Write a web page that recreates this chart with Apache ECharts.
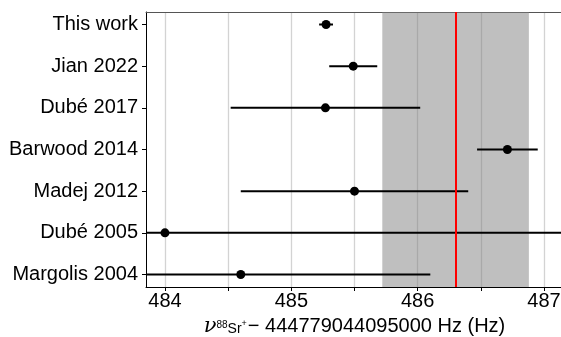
<!DOCTYPE html>
<html>
<head>
<meta charset="utf-8">
<script src="https://cdn.jsdelivr.net/npm/echarts@6/dist/echarts.min.js"></script>
<style>html,body{margin:0;padding:0;background:#fff}#c{width:561px;height:337px}</style>
</head>
<body>
<div id="c"></div>
<script>
const categories = ["This work", "Jian 2022", "Dubé 2017", "Barwood 2014", "Madej 2012", "Dubé 2005", "Margolis 2004"];
const centers = [485.275, 485.49, 485.27, 486.71, 485.50, 484.00, 484.60];
const errors = [0.055, 0.19, 0.75, 0.24, 0.90, 3.40, 1.50];
const xTicks = [484, 484.5, 485, 485.5, 486, 486.5, 487];
const xLabels = [484, 485, 486, 487];
const bandRange = [485.72, 486.88];
const refLine = 486.30;

const font = 'Liberation Sans, Arial, Helvetica, sans-serif';
const yIdx = categories.map((_, i) => i);
const barData = categories.map((_, i) => [centers[i] - errors[i], centers[i] + errors[i], i]);
const ptData = categories.map((_, i) => [centers[i], i]);

const chart = echarts.init(document.getElementById('c'), null, {renderer: 'canvas'});
chart.setOption({
  animation: false,
  grid: {left: 146, right: -2, top: 12, bottom: 50, containLabel: false, outerBoundsMode: 'none'},
  xAxis: [{
    type: 'value', min: 483.85, max: 487.15, position: 'bottom',
    axisLine: {show: true, onZero: false, lineStyle: {color: '#000', width: 1}},
    axisTick: {show: true, customValues: xTicks, length: 4, lineStyle: {color: '#000'}},
    axisLabel: {customValues: xLabels, color: '#000', fontSize: 20, fontFamily: font, margin: 4},
    splitLine: {show: true, lineStyle: {color: '#d3d3d3', width: 1.3}},
    name: '{nu|ν}{s|88}{sr|Sr}{p|+}{m|− 444779044095000 Hz (Hz)}',
    nameLocation: 'middle', nameGap: 26,
    nameTextStyle: {
      color: '#000', fontFamily: font,
      rich: {
        nu: {fontSize: 21, fontStyle: 'italic', fontFamily: 'DejaVu Serif', color: '#000'},
        s: {fontSize: 10, fontFamily: font, color: '#000', padding: [0, 0, 2, 0]},
        sr: {fontSize: 14, fontFamily: font, color: '#000', padding: [0, 0, -5, 0]},
        p: {fontSize: 9, fontFamily: font, color: '#000', padding: [0, 1, 5, 0]},
        m: {fontSize: 20, fontFamily: font, color: '#000'}
      }
    }
  }, {
    type: 'value', min: 483.85, max: 487.15, position: 'top',
    axisLine: {show: true, onZero: false, lineStyle: {color: '#555', width: 1}},
    axisTick: {show: false}, axisLabel: {show: false}, splitLine: {show: false}
  }],
  yAxis: {
    type: 'value', inverse: true, min: -0.3, max: 6.3,
    axisLine: {show: true, onZero: false, lineStyle: {color: '#000', width: 1}},
    axisTick: {show: true, customValues: yIdx, length: 4, lineStyle: {color: '#000'}},
    axisLabel: {customValues: yIdx, color: '#000', fontSize: 20, fontFamily: font, margin: 8,
      formatter: v => categories[Math.round(v)] || ''},
    splitLine: {show: false}
  },
  series: [{
    type: 'custom',
    clip: true,
    z: 3,
    data: barData,
    encode: {x: [0, 1], y: 2},
    renderItem: (params, api) => {
      const a = api.coord([api.value(0), api.value(2)]);
      const b = api.coord([api.value(1), api.value(2)]);
      return {type: 'line', shape: {x1: a[0], y1: a[1], x2: b[0], y2: b[1]},
        style: {stroke: '#000', lineWidth: 2}};
    },
    markArea: {
      silent: true,
      itemStyle: {color: 'rgba(128,128,128,0.5)'},
      data: [[{xAxis: bandRange[0]}, {xAxis: bandRange[1]}]]
    },
    markLine: {
      silent: true, symbol: 'none', label: {show: false},
      lineStyle: {color: '#ff0000', width: 2, type: 'solid'},
      data: [{xAxis: refLine}]
    }
  }, {
    type: 'scatter',
    z: 4,
    symbol: 'circle', symbolSize: 9,
    itemStyle: {color: '#000', opacity: 1},
    data: ptData
  }]
});
</script>
</body>
</html>
